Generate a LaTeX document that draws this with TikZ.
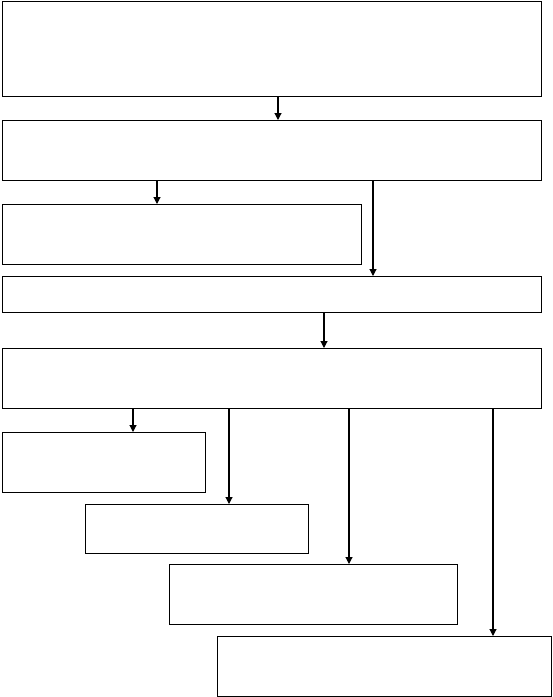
\documentclass[tikz,border=0pt]{standalone}
\usetikzlibrary{arrows.meta}

\begin{document}
\begin{tikzpicture}[x=1pt, y=-1pt,
    blockbox/.style={draw, rectangle, line width=1.3pt, inner sep=0pt, anchor=north west},
    flow/.style={line width=1.1pt, -{Triangle[length=7pt, width=7pt]}}]

    % Fix the page size
    \useasboundingbox (0,0) rectangle (553,697);

    % Draw boxes
    \node[blockbox, minimum width=539pt, minimum height=95pt] (b1) at (2,1) {};
    \node[blockbox, minimum width=539pt, minimum height=60pt] (b2) at (2,120) {};
    \node[blockbox, minimum width=359pt, minimum height=60pt] (b3) at (2,204) {};
    \node[blockbox, minimum width=539pt, minimum height=36pt] (b4) at (2,276) {};
    \node[blockbox, minimum width=539pt, minimum height=60pt] (b5) at (2,348) {};
    \node[blockbox, minimum width=203pt, minimum height=60pt] (b6) at (2,432) {};
    \node[blockbox, minimum width=223pt, minimum height=49pt] (b7) at (85,504) {};
    \node[blockbox, minimum width=288pt, minimum height=60pt] (b8) at (169,564) {};
    \node[blockbox, minimum width=334pt, minimum height=60pt] (b9) at (217,636) {};

    % Columns of the arrows
    \coordinate (c1) at (278,0);
    \coordinate (c2) at (157,0);
    \coordinate (c3) at (373,0);
    \coordinate (c4) at (324,0);
    \coordinate (c5) at (133,0);
    \coordinate (c6) at (229,0);
    \coordinate (c7) at (349,0);
    \coordinate (c8) at (493,0);

    % Draw arrows
    \draw[flow] (b1.south -| c1) -- (b2.north -| c1);
    \draw[flow] (b2.south -| c2) -- (b3.north -| c2);
    \draw[flow] (b2.south -| c3) -- (b4.north -| c3);
    \draw[flow] (b4.south -| c4) -- (b5.north -| c4);
    \draw[flow] (b5.south -| c5) -- (b6.north -| c5);
    \draw[flow] (b5.south -| c6) -- (b7.north -| c6);
    \draw[flow] (b5.south -| c7) -- (b8.north -| c7);
    \draw[flow] (b5.south -| c8) -- (b9.north -| c8);

\end{tikzpicture}
\end{document}
